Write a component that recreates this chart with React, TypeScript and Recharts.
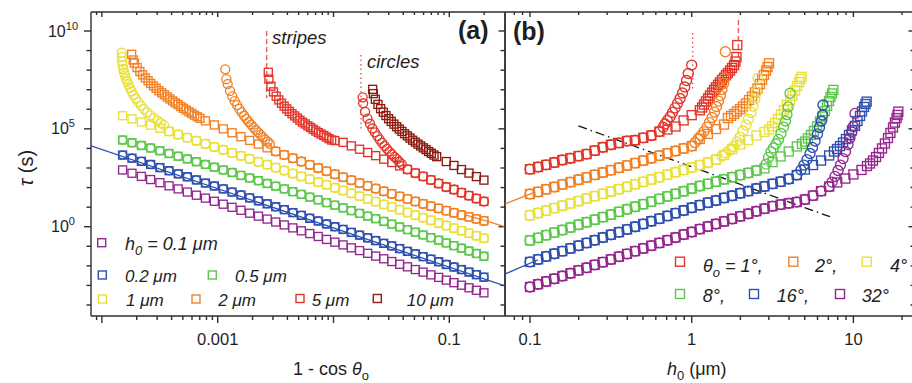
import React from 'react';
import { ScatterChart, Scatter, XAxis, YAxis, ReferenceLine } from 'recharts';

// ---------------- colours / fonts ----------------
const COL = {
  purple: '#93278F',
  blue: '#2E4FAE',
  green: '#5CC84B',
  yellow: '#E9E03A',
  orange: '#F28125',
  red: '#E2352A',
  darkred: '#8E1B12',
};
const AXIS = '#2e2e2e';
const TXT = '#1e1e1e';
const MARK = '#E65D52';
const FONT = '"Liberation Sans", Arial, Helvetica, sans-serif';

// ---------------- panel (a): log10(1 - cos θo) vs log10 τ ----------------
const aGridLog = [-3.821, -3.740, -3.659, -3.579, -3.499, -3.420, -3.341, -3.262, -3.184, -3.106, -3.029, -2.952, -2.876, -2.799, -2.724, -2.648, -2.573, -2.499, -2.425, -2.351, -2.278, -2.205, -2.132, -2.060, -1.988, -1.917, -1.846, -1.775, -1.705, -1.636, -1.566, -1.497, -1.429, -1.361, -1.293, -1.226, -1.159, -1.092, -1.026, -0.960, -0.895, -0.830, -0.766, -0.701];

const aRow01 = [2.90, 2.73, 2.57, 2.41, 2.25, 2.09, 1.93, 1.77, 1.61, 1.46, 1.30, 1.15, 0.99, 0.84, 0.69, 0.54, 0.39, 0.24, 0.09, -0.06, -0.21, -0.35, -0.50, -0.65, -0.79, -0.93, -1.08, -1.22, -1.36, -1.50, -1.64, -1.78, -1.92, -2.05, -2.19, -2.32, -2.46, -2.59, -2.73, -2.86, -2.99, -3.12, -3.25, -3.38];
const aRow02 = [3.66, 3.50, 3.34, 3.18, 3.02, 2.86, 2.70, 2.55, 2.39, 2.23, 2.08, 1.93, 1.77, 1.62, 1.47, 1.32, 1.17, 1.02, 0.87, 0.72, 0.58, 0.43, 0.29, 0.14, 0.00, -0.14, -0.29, -0.43, -0.57, -0.71, -0.85, -0.98, -1.12, -1.26, -1.39, -1.53, -1.66, -1.79, -1.93, -2.06, -2.19, -2.32, -2.45, -2.58];
const aRow05 = [4.43, 4.29, 4.15, 4.02, 3.88, 3.74, 3.60, 3.46, 3.32, 3.18, 3.04, 2.90, 2.77, 2.62, 2.49, 2.35, 2.21, 2.07, 1.93, 1.79, 1.65, 1.51, 1.37, 1.23, 1.10, 0.96, 0.82, 0.68, 0.54, 0.41, 0.27, 0.13, -0.01, -0.15, -0.28, -0.42, -0.56, -0.69, -0.83, -0.97, -1.10, -1.24, -1.37, -1.51];
const aRow1 = [5.67, 5.51, 5.35, 5.19, 5.03, 4.87, 4.71, 4.55, 4.39, 4.24, 4.08, 3.93, 3.77, 3.62, 3.47, 3.32, 3.17, 3.02, 2.87, 2.72, 2.57, 2.43, 2.28, 2.14, 1.99, 1.85, 1.71, 1.56, 1.42, 1.28, 1.14, 1.01, 0.87, 0.73, 0.60, 0.46, 0.33, 0.19, 0.06, -0.07, -0.20, -0.33, -0.46, -0.59];
// tails (aligned with the end of aGridLog)
const aTail2 = [5.41, 5.20, 5.00, 4.80, 4.60, 4.41, 4.22, 4.03, 3.85, 3.67, 3.50, 3.33, 3.16, 3.00, 2.84, 2.68, 2.53, 2.38, 2.23, 2.09, 1.95, 1.81, 1.68, 1.55, 1.42, 1.29, 1.17, 1.05, 0.94, 0.82, 0.71, 0.60, 0.50, 0.40, 0.30];
const aTail5 = [4.40, 4.31, 4.13, 3.96, 3.79, 3.63, 3.45, 3.28, 3.11, 2.93, 2.74, 2.57, 2.39, 2.21, 2.03, 1.90, 1.74, 1.59, 1.44, 1.29];
const aTail10 = [3.33, 3.13, 2.92, 2.74, 2.56, 2.38];
// grid index where circles rejoin the row
const A1_CIRC_FROM = 5;
const A2_CIRC_FROM = 17;
const A5_CIRC_FROM = 33;

// steep branches [log10(1-cos θo), log10 τ]
const a1Circ = [[-3.829, 8.89], [-3.828, 8.67], [-3.825, 8.44], [-3.821, 8.24], [-3.816, 8.06], [-3.809, 7.88], [-3.801, 7.73], [-3.792, 7.57], [-3.782, 7.42], [-3.771, 7.27], [-3.758, 7.09], [-3.743, 6.91], [-3.727, 6.73], [-3.708, 6.55], [-3.686, 6.37], [-3.663, 6.19], [-3.637, 6.01], [-3.609, 5.85], [-3.581, 5.69], [-3.550, 5.55], [-3.519, 5.42], [-3.490, 5.30], [-3.464, 5.20]];
const a2Sq = [[-3.743, 8.81], [-3.729, 8.52], [-3.719, 8.36], [-3.696, 8.13], [-3.672, 7.93], [-3.649, 7.76], [-3.625, 7.60], [-3.601, 7.46], [-3.578, 7.32], [-3.554, 7.19], [-3.531, 7.07], [-3.507, 6.95], [-3.483, 6.84], [-3.460, 6.74], [-3.436, 6.63], [-3.413, 6.53], [-3.389, 6.43], [-3.366, 6.33], [-3.342, 6.24], [-3.318, 6.14], [-3.295, 6.05], [-3.271, 5.96], [-3.248, 5.87], [-3.224, 5.79], [-3.200, 5.70], [-3.177, 5.62], [-3.153, 5.54]];
const a2Circ = [[-2.935, 8.04], [-2.925, 7.54], [-2.914, 7.29], [-2.894, 6.94], [-2.874, 6.66], [-2.853, 6.42], [-2.833, 6.21], [-2.813, 6.02], [-2.793, 5.84], [-2.772, 5.67], [-2.752, 5.51], [-2.732, 5.36], [-2.711, 5.22], [-2.691, 5.08], [-2.671, 4.94], [-2.650, 4.82], [-2.630, 4.69], [-2.610, 4.57], [-2.589, 4.45], [-2.569, 4.34], [-2.549, 4.23]];
const a5Sq = [[-2.563, 7.89], [-2.558, 7.54], [-2.540, 7.18], [-2.518, 6.89], [-2.495, 6.67], [-2.472, 6.48], [-2.449, 6.31], [-2.426, 6.16], [-2.404, 6.02], [-2.381, 5.89], [-2.358, 5.77], [-2.335, 5.66], [-2.312, 5.55], [-2.290, 5.44], [-2.267, 5.34], [-2.244, 5.25], [-2.221, 5.15], [-2.198, 5.07], [-2.176, 4.98], [-2.153, 4.89], [-2.130, 4.81], [-2.107, 4.73], [-2.084, 4.66], [-2.061, 4.58], [-2.039, 4.50], [-2.016, 4.43]];
const a5Circ = [[-1.748, 6.61], [-1.744, 6.31], [-1.727, 5.87], [-1.706, 5.52], [-1.685, 5.26], [-1.664, 5.02], [-1.643, 4.82], [-1.622, 4.63], [-1.601, 4.45], [-1.580, 4.28], [-1.559, 4.13], [-1.538, 3.98], [-1.517, 3.84], [-1.495, 3.70], [-1.474, 3.57], [-1.453, 3.45], [-1.432, 3.32], [-1.411, 3.20]];
const a10Sq = [[-1.662, 7.02], [-1.656, 6.80], [-1.639, 6.51], [-1.616, 6.25], [-1.593, 6.03], [-1.570, 5.85], [-1.547, 5.68], [-1.524, 5.52], [-1.501, 5.38], [-1.478, 5.24], [-1.455, 5.11], [-1.432, 4.99], [-1.409, 4.87], [-1.386, 4.75], [-1.362, 4.64], [-1.339, 4.53], [-1.316, 4.42], [-1.293, 4.32], [-1.270, 4.22], [-1.247, 4.13], [-1.224, 4.03], [-1.201, 3.94], [-1.178, 3.84], [-1.155, 3.75], [-1.132, 3.66], [-1.109, 3.58]];

// lines (a)
const aFitBlue = [[-4.094, 4.133], [-0.519, -3.03]];
const aFitOrange = [[-0.86, 0.61], [-0.519, 0.0]];
const aStripesMark = [[-2.577, 10.0], [-2.577, 6.56]];
const aCirclesMark = [[-1.763, 8.77], [-1.763, 4.94]];

// ---------------- panel (b): log10 h0 (µm) vs log10 τ ----------------
const bGridLog = [-1.00, -0.95, -0.90, -0.85, -0.80, -0.75, -0.70, -0.65, -0.60, -0.55, -0.50, -0.45, -0.40, -0.35, -0.30, -0.25, -0.20, -0.15, -0.10, -0.05, 0.00, 0.05, 0.10, 0.15, 0.20, 0.25, 0.30, 0.35, 0.40, 0.45, 0.50, 0.55, 0.60, 0.65, 0.70, 0.75, 0.80, 0.85, 0.90, 0.95, 1.00, 1.05];

const bRow1 = [2.94, 3.05, 3.16, 3.28, 3.41, 3.50, 3.61, 3.71, 3.89, 4.06, 4.19, 4.28, 4.38, 4.42, 4.54, 4.66, 4.86, 4.97, 5.12, 5.43, 5.70, 5.95];
const bRow2 = [1.67, 1.78, 1.91, 2.03, 2.16, 2.28, 2.40, 2.52, 2.65, 2.77, 2.89, 3.01, 3.13, 3.25, 3.38, 3.50, 3.63, 3.75, 3.87, 4.00, 4.12, 4.48, 4.74, 4.99, 5.22];
const bRow4 = [0.58, 0.70, 0.82, 0.95, 1.07, 1.19, 1.31, 1.44, 1.56, 1.68, 1.80, 1.92, 2.04, 2.17, 2.29, 2.41, 2.53, 2.66, 2.78, 2.90, 3.03, 3.15, 3.28, 3.43, 3.66, 3.97, 4.20, 4.43, 4.66, 4.84];
const bRow8 = [-0.70, -0.57, -0.43, -0.30, -0.17, -0.04, 0.10, 0.23, 0.36, 0.49, 0.62, 0.76, 0.89, 1.02, 1.15, 1.28, 1.42, 1.55, 1.68, 1.81, 1.95, 2.08, 2.19, 2.30, 2.42, 2.53, 2.64, 2.75, 2.87, 2.98, 3.30, 3.59, 3.84, 4.10];
const bRow16 = [-1.80, -1.67, -1.52, -1.38, -1.25, -1.11, -0.97, -0.83, -0.69, -0.55, -0.41, -0.28, -0.14, 0.00, 0.14, 0.28, 0.41, 0.55, 0.69, 0.83, 0.97, 1.10, 1.23, 1.34, 1.47, 1.58, 1.71, 1.82, 1.95, 2.06, 2.19, 2.30, 2.44, 2.64, 2.92, 3.15, 3.38, 3.64];
const bRow32 = [-3.08, -2.94, -2.80, -2.66, -2.52, -2.38, -2.23, -2.10, -1.95, -1.81, -1.67, -1.53, -1.39, -1.25, -1.11, -0.97, -0.83, -0.69, -0.55, -0.40, -0.27, -0.12, 0.01, 0.14, 0.27, 0.40, 0.53, 0.66, 0.79, 0.92, 1.05, 1.13, 1.20, 1.26, 1.39, 1.59, 1.82, 2.05, 2.26, 2.46, 2.67, 2.90];
// number of row points that also carry a circle
const bCircRowCount = [17, 21, 24, 29, 34, 38];

const bCirc1 = [[-0.176, 5.08], [-0.165, 5.25], [-0.151, 5.42], [-0.134, 5.62], [-0.119, 5.84], [-0.103, 6.07], [-0.088, 6.30], [-0.072, 6.55], [-0.057, 6.83], [-0.043, 7.14], [-0.032, 7.47], [-0.021, 7.83], [0.000, 8.26]];
const bSq1 = [[0.064, 6.09], [0.076, 6.24], [0.088, 6.40], [0.101, 6.55], [0.113, 6.70], [0.126, 6.85], [0.138, 6.99], [0.150, 7.12], [0.163, 7.25], [0.175, 7.37], [0.187, 7.50], [0.200, 7.61], [0.212, 7.74], [0.224, 7.85], [0.237, 7.98], [0.249, 8.11], [0.262, 8.26], [0.271, 8.44], [0.277, 8.67], [0.282, 9.28]];
const bCirc2 = [[0.020, 4.30], [0.039, 4.48], [0.058, 4.66], [0.076, 4.86], [0.095, 5.09], [0.110, 5.32], [0.126, 5.58], [0.141, 5.86], [0.153, 6.14], [0.166, 6.42], [0.177, 6.70], [0.187, 7.01], [0.197, 7.32], [0.203, 7.60], [0.208, 8.94]];
const bSq2 = [[0.224, 5.55], [0.243, 5.66], [0.262, 5.76], [0.280, 5.89], [0.299, 6.01], [0.317, 6.14], [0.336, 6.30], [0.354, 6.47], [0.373, 6.65], [0.391, 6.86], [0.407, 7.06], [0.422, 7.29], [0.435, 7.52], [0.447, 7.75], [0.460, 7.98], [0.469, 8.16], [0.478, 8.35]];
const bCirc4 = [[0.187, 3.61], [0.212, 3.77], [0.237, 3.92], [0.259, 4.10], [0.280, 4.33], [0.299, 4.58], [0.317, 4.89], [0.336, 5.20], [0.351, 5.50], [0.367, 5.84], [0.379, 6.17], [0.391, 6.53], [0.401, 6.88], [0.410, 7.58]];
const bSq4 = [[0.478, 4.97], [0.497, 5.12], [0.515, 5.30], [0.534, 5.50], [0.552, 5.73], [0.571, 5.96], [0.589, 6.22], [0.608, 6.47], [0.623, 6.70], [0.639, 6.96], [0.651, 7.19], [0.664, 7.39], [0.673, 7.55], [0.680, 7.66]];
const bCirc8 = [[0.460, 3.20], [0.475, 3.54], [0.490, 3.82], [0.506, 4.02], [0.521, 4.24], [0.537, 4.46], [0.552, 4.76], [0.568, 5.09], [0.580, 5.40], [0.589, 5.73], [0.597, 6.12], [0.608, 6.82]];
const bSq8 = [[0.682, 4.23], [0.701, 4.35], [0.719, 4.51], [0.738, 4.69], [0.756, 4.89], [0.775, 5.12], [0.793, 5.38], [0.809, 5.63], [0.824, 5.91], [0.837, 6.17], [0.849, 6.42], [0.858, 6.63], [0.868, 6.81], [0.876, 6.99]];
const bCirc16 = [[0.676, 2.90], [0.694, 3.15], [0.713, 3.43], [0.732, 3.74], [0.747, 4.05], [0.763, 4.38], [0.778, 4.74], [0.790, 5.07], [0.802, 5.40], [0.810, 5.71], [0.812, 6.22]];
const bSq16 = [[0.880, 3.84], [0.899, 3.97], [0.917, 4.12], [0.936, 4.30], [0.954, 4.48], [0.973, 4.69], [0.991, 4.92], [1.010, 5.15], [1.025, 5.40], [1.041, 5.66], [1.053, 5.89], [1.066, 6.12], [1.075, 6.27], [1.082, 6.39]];
const bCirc32 = [[0.868, 2.28], [0.886, 2.57], [0.905, 2.87], [0.920, 3.15], [0.936, 3.48], [0.951, 3.84], [0.967, 4.20], [0.979, 4.53], [0.990, 4.84], [0.999, 5.12], [1.010, 5.79]];
const bSq32 = [[1.084, 3.10], [1.103, 3.23], [1.121, 3.38], [1.140, 3.56], [1.158, 3.77], [1.177, 4.00], [1.195, 4.25], [1.214, 4.53], [1.229, 4.79], [1.245, 5.07], [1.257, 5.32], [1.267, 5.55], [1.273, 5.71], [1.278, 5.88]];

// lines (b)
const bFitOrange = [[-1.1546, 1.16], [-0.97, 1.77]];
const bFitBlue = [[-1.1546, -2.42], [-0.95, -1.69]];
const bCrossover = [[-0.701, 5.15], [0.855, 0.51]];
const bCirclesMark = [[0.006, 9.90], [0.006, 6.99]];
const bStripesMark = [[0.289, 10.56], [0.289, 8.16]];

// ---------------- ticks ----------------
const aXTicks = [9e-5, 1e-4, 2e-4, 3e-4, 4e-4, 5e-4, 6e-4, 7e-4, 8e-4, 9e-4, 1e-3, 2e-3, 3e-3, 4e-3, 5e-3, 6e-3, 7e-3, 8e-3, 9e-3, 1e-2, 2e-2, 3e-2, 4e-2, 5e-2, 6e-2, 7e-2, 8e-2, 9e-2, 1e-1, 2e-1];
const aXMajors = [1e-4, 1e-3, 1e-2, 1e-1];
const aXLabels: [number, string][] = [[1e-3, '0.001'], [1e-1, '0.1']];
const bXTicks = [0.08, 0.09, 0.1, 0.2, 0.3, 0.4, 0.5, 0.6, 0.7, 0.8, 0.9, 1, 2, 3, 4, 5, 6, 7, 8, 9, 10, 20];
const bXMajors = [0.1, 1, 10];
const bXLabels: [number, string][] = [[0.1, '0.1'], [1, '1'], [10, '10']];
const yTicks = [1e-4, 1e-3, 1e-2, 1e-1, 1e0, 1e1, 1e2, 1e3, 1e4, 1e5, 1e6, 1e7, 1e8, 1e9, 1e10];
const yMajors = [1e0, 1e5, 1e10];
const yLabels: [number, string][] = [[1e0, '0'], [1e5, '5'], [1e10, '10']];

// ---------------- domains ----------------
const Y_DOMAIN: [number, number] = [Math.pow(10, -4.563), Math.pow(10, 10.971)];
const AX_DOMAIN: [number, number] = [Math.pow(10, -4.094), Math.pow(10, -0.519)];
const BX_DOMAIN: [number, number] = [Math.pow(10, -1.1546), Math.pow(10, 1.381)];

// ---------------- helpers ----------------
type P = { x: number; y: number };
const pt = (lx: number, ly: number): P => ({ x: Math.pow(10, lx), y: Math.pow(10, ly) });
const fromGrid = (grid: number[], vals: number[], start = 0): P[] => vals.map((v, i) => pt(grid[start + i], v));
const fromPairs = (pairs: number[][]): P[] => pairs.map(([a, b]) => pt(a, b));
const seg = (pairs: number[][]) => pairs.map(([a, b]) => ({ x: Math.pow(10, a), y: Math.pow(10, b) }));
const same = (a: number, b: number) => Math.abs(Math.log10(a) - Math.log10(b)) < 1e-6;

type Ser = { key: string; color: string; shape: 'sq' | 'ci'; size: number; data: P[] };

const tailA = (tail: number[]) => aGridLog.length - tail.length;

const aSeries: Ser[] = [
  { key: 'a01s', color: COL.purple, shape: 'sq', size: 8, data: fromGrid(aGridLog, aRow01) },
  { key: 'a02s', color: COL.blue, shape: 'sq', size: 8, data: fromGrid(aGridLog, aRow02) },
  { key: 'a02c', color: COL.blue, shape: 'ci', size: 8, data: fromGrid(aGridLog, aRow02) },
  { key: 'a05s', color: COL.green, shape: 'sq', size: 8, data: fromGrid(aGridLog, aRow05) },
  { key: 'a05c', color: COL.green, shape: 'ci', size: 8, data: fromGrid(aGridLog, aRow05) },
  { key: 'a1s', color: COL.yellow, shape: 'sq', size: 8, data: fromGrid(aGridLog, aRow1) },
  {
    key: 'a1c', color: COL.yellow, shape: 'ci', size: 9,
    data: [...fromPairs(a1Circ), ...fromGrid(aGridLog, aRow1.slice(A1_CIRC_FROM), A1_CIRC_FROM)],
  },
  {
    key: 'a2s', color: COL.orange, shape: 'sq', size: 8,
    data: [...fromPairs(a2Sq), ...fromGrid(aGridLog, aTail2, tailA(aTail2))],
  },
  {
    key: 'a2c', color: COL.orange, shape: 'ci', size: 9,
    data: [...fromPairs(a2Circ), ...fromGrid(aGridLog, aTail2.slice(A2_CIRC_FROM - tailA(aTail2)), A2_CIRC_FROM)],
  },
  {
    key: 'a5s', color: COL.red, shape: 'sq', size: 8,
    data: [...fromPairs(a5Sq), ...fromGrid(aGridLog, aTail5, tailA(aTail5))],
  },
  {
    key: 'a5c', color: COL.red, shape: 'ci', size: 9,
    data: [...fromPairs(a5Circ), ...fromGrid(aGridLog, aTail5.slice(A5_CIRC_FROM - tailA(aTail5)), A5_CIRC_FROM)],
  },
  {
    key: 'a10s', color: COL.darkred, shape: 'sq', size: 8,
    data: [...fromPairs(a10Sq), ...fromGrid(aGridLog, aTail10, tailA(aTail10))],
  },
];

const bDefs = [
  { id: '1', color: COL.red, row: bRow1, circ: bCirc1, sq: bSq1 },
  { id: '2', color: COL.orange, row: bRow2, circ: bCirc2, sq: bSq2 },
  { id: '4', color: COL.yellow, row: bRow4, circ: bCirc4, sq: bSq4 },
  { id: '8', color: COL.green, row: bRow8, circ: bCirc8, sq: bSq8 },
  { id: '16', color: COL.blue, row: bRow16, circ: bCirc16, sq: bSq16 },
  { id: '32', color: COL.purple, row: bRow32, circ: bCirc32, sq: bSq32 },
];
const bSeries: Ser[] = bDefs.flatMap((d, i) => [
  { key: `b${d.id}s`, color: d.color, shape: 'sq' as const, size: 9, data: [...fromGrid(bGridLog, d.row), ...fromPairs(d.sq)] },
  {
    key: `b${d.id}c`, color: d.color, shape: 'ci' as const, size: 10,
    data: [...fromGrid(bGridLog, d.row.slice(0, bCircRowCount[i])), ...fromPairs(d.circ)],
  },
]);

// ---------------- marker shapes ----------------
const makeShape = (s: Ser) => (p: any) => {
  const { cx, cy } = p;
  if (cx == null || cy == null) return <g />;
  if (s.shape === 'sq') {
    return <rect x={cx - s.size / 2} y={cy - s.size / 2} width={s.size} height={s.size} fill="none" stroke={s.color} strokeWidth={1.35} />;
  }
  return <circle cx={cx} cy={cy} r={s.size / 2} fill="none" stroke={s.color} strokeWidth={1.35} />;
};

// ---------------- tick renderers (axis labels) ----------------
const xTick = (majors: number[], labels: [number, string][] | null, majorLen: number, minorLen: number) => (props: any) => {
  const { x, y, payload } = props;
  const v = payload.value as number;
  const major = majors.some((m) => same(m, v));
  const lab = labels ? labels.find(([m]) => same(m, v)) : undefined;
  return (
    <g>
      <line x1={x} x2={x} y1={y} y2={y + (major ? majorLen : minorLen)} stroke={AXIS} strokeWidth={1.4} />
      {lab && (
        <text x={x} y={y + 29} textAnchor="middle" fontSize={16.5} fill={TXT} fontFamily={FONT}>
          {lab[1]}
        </text>
      )}
    </g>
  );
};

const yTickLabel = (props: any) => {
  const { x, y, payload } = props;
  const v = payload.value as number;
  const lab = yLabels.find(([m]) => same(m, v));
  if (!lab) return <g />;
  return (
    <text x={x - 28} y={y + 5.5} textAnchor="middle" fontSize={16} fill={TXT} fontFamily={FONT}>
      10<tspan dy={-7} fontSize={11}>{lab[1]}</tspan>
    </text>
  );
};

// tick marks on the frame, placed through the scales by ReferenceLine
const yTickMarks = (left: [number, number] | null, right: [number, number] | null) =>
  yTicks.map((v) => {
    const major = yMajors.some((m) => same(m, v));
    return (
      <ReferenceLine
        key={`ym${v}`}
        xAxisId="x"
        yAxisId="y"
        y={v}
        ifOverflow="visible"
        shape={(p: any) => {
          const xl = Math.min(p.x1, p.x2);
          const xr = Math.max(p.x1, p.x2);
          const yy = p.y1;
          return (
            <g>
              {left && <line x1={xl} x2={xl - (major ? left[0] : left[1])} y1={yy} y2={yy} stroke={AXIS} strokeWidth={1.4} />}
              {right && <line x1={xr} x2={xr - (major ? right[0] : right[1])} y1={yy} y2={yy} stroke={AXIS} strokeWidth={1.4} />}
            </g>
          );
        }}
      />
    );
  });

const xTopMarks = (ticks: number[], majors: number[]) =>
  ticks.map((v) => {
    const major = majors.some((m) => same(m, v));
    return (
      <ReferenceLine
        key={`xm${v}`}
        xAxisId="x"
        yAxisId="y"
        x={v}
        ifOverflow="visible"
        shape={(p: any) => {
          const yt = Math.min(p.y1, p.y2);
          return <line x1={p.x1} x2={p.x1} y1={yt} y2={yt + (major ? 5 : 3)} stroke={AXIS} strokeWidth={1.4} />;
        }}
      />
    );
  });

const renderSeries = (list: Ser[]) =>
  list.map((s) => (
    <Scatter
      key={s.key}
      xAxisId="x"
      yAxisId="y"
      data={s.data}
      isAnimationActive={false}
      shape={makeShape(s)}
    />
  ));

const refSeg = (pairs: number[][], color: string, dash: string | undefined, width: number, key: string) => (
  <ReferenceLine
    key={key}
    xAxisId="x"
    yAxisId="y"
    segment={seg(pairs)}
    stroke={color}
    strokeWidth={width}
    strokeDasharray={dash}
    ifOverflow="hidden"
  />
);

// frame lines drawn through the axes' own scales at the domain edges
const frame = (xDom: [number, number], withRight: boolean) => [
  <ReferenceLine key="fb" xAxisId="x" yAxisId="y" y={Y_DOMAIN[0]} stroke={AXIS} strokeWidth={1.4} ifOverflow="visible" />,
  <ReferenceLine key="ft" xAxisId="x" yAxisId="y" y={Y_DOMAIN[1]} stroke={AXIS} strokeWidth={1.4} ifOverflow="visible" />,
  <ReferenceLine key="fl" xAxisId="x" yAxisId="y" x={xDom[0]} stroke={AXIS} strokeWidth={1.4} ifOverflow="visible" />,
  withRight ? <ReferenceLine key="fr" xAxisId="x" yAxisId="y" x={xDom[1]} stroke={AXIS} strokeWidth={1.4} ifOverflow="visible" /> : null,
];

// ---------------- legend overlay ----------------
const Sq = ({ x, y, c, s = 8 }: { x: number; y: number; c: string; s?: number }) => (
  <rect x={x - s / 2} y={y - s / 2} width={s} height={s} fill="none" stroke={c} strokeWidth={1.4} />
);

const Overlay = () => (
  <svg width={912} height={383} style={{ position: 'absolute', left: 0, top: 0, pointerEvents: 'none' }} fontFamily={FONT}>
    {/* y label */}
    <text x={33} y={168} transform="rotate(-90 33 168)" textAnchor="middle" fontSize={20} fill={TXT}>
      <tspan fontStyle="italic">τ</tspan> (s)
    </text>
    {/* x labels */}
    <text x={293} y={375} fontSize={18} fill={TXT}>
      1 - cos <tspan fontStyle="italic">θ</tspan>
      <tspan dy={5} fontSize={13}>o</tspan>
    </text>
    <text x={667} y={375} fontSize={18} fill={TXT}>
      <tspan fontStyle="italic">h</tspan>
      <tspan dy={5} fontSize={13}>0</tspan>
      <tspan dy={-5}> (μm)</tspan>
    </text>
    {/* panel titles */}
    <text x={458} y={39} fontSize={25} fontWeight="bold" fill={TXT}>(a)</text>
    <text x={513} y={40} fontSize={25} fontWeight="bold" fill={TXT}>(b)</text>
    {/* annotations */}
    <text x={272} y={43.5} fontSize={18.5} fontStyle="italic" fill={TXT}>stripes</text>
    <text x={367} y={68} fontSize={18.5} fontStyle="italic" fill={TXT}>circles</text>

    {/* legend (a) */}
    <g fontStyle="italic" fontSize={17} fill={TXT}>
      <Sq x={101.7} y={242.7} c={COL.purple} />
      <text x={125} y={250} fontSize={18}>
        h<tspan dy={5} fontSize={13}>0</tspan>
        <tspan dy={-5}> = 0.1 μm</tspan>
      </text>
      <Sq x={102.3} y={275} c={COL.blue} />
      <text x={125} y={281.5}>0.2 μm</text>
      <Sq x={212.3} y={275} c={COL.green} />
      <text x={235} y={281.5}>0.5 μm</text>
      <Sq x={102.3} y={299} c={COL.yellow} />
      <text x={126} y={305.5}>1 μm</text>
      <Sq x={196} y={299} c={COL.orange} />
      <text x={218.3} y={305.5}>2 μm</text>
      <Sq x={300} y={298.5} c={COL.red} />
      <text x={311.7} y={305.5}>5 μm</text>
      <Sq x={377.3} y={298.5} c={COL.darkred} />
      <text x={406.7} y={305.5}>10 μm</text>
    </g>

    {/* legend (b) */}
    <g fontStyle="italic" fontSize={18} fill={TXT}>
      <Sq x={680} y={261.7} c={COL.red} s={9} />
      <text x={703} y={271.5}>
        θ<tspan dy={5} fontSize={13}>o</tspan>
        <tspan dy={-5}> = 1°,</tspan>
      </text>
      <Sq x={793.3} y={261.7} c={COL.orange} s={9} />
      <text x={815} y={271.5}>2°,</text>
      <Sq x={866.7} y={261.7} c={COL.yellow} s={9} />
      <text x={890} y={271.5}>4°</text>
      <Sq x={680} y={294} c={COL.green} s={9} />
      <text x={702.7} y={301.7}>8°,</text>
      <Sq x={754} y={294} c={COL.blue} s={9} />
      <text x={776.7} y={301.7}>16°,</text>
      <Sq x={840} y={294} c={COL.purple} s={9} />
      <text x={861.7} y={301.7}>32°</text>
    </g>
  </svg>
);

const axisCommon = {
  type: 'number' as const,
  scale: 'log' as const,
  allowDataOverflow: true,
  interval: 0 as const,
  tickSize: 0,
  tickMargin: 0,
  tickLine: false,
  axisLine: false,
};

export default function App() {
  return (
    <div style={{ position: 'absolute', left: 0, top: 0, width: 912, height: 383, overflow: 'hidden', background: '#fff' }}>
      {/* panel (a) */}
      <div style={{ position: 'absolute', left: 0, top: 0 }}>
        <ScatterChart width={507} height={383} margin={{ top: 12, right: 2, bottom: 0, left: 0 }}>
          <XAxis {...axisCommon} xAxisId="x" dataKey="x" domain={AX_DOMAIN} orientation="bottom" height={67}
            ticks={aXTicks} tick={xTick(aXMajors, aXLabels, 7, 4)} />
          <YAxis {...axisCommon} yAxisId="y" dataKey="y" domain={Y_DOMAIN} orientation="left" width={91}
            ticks={yTicks} tick={yTickLabel} />
          {frame(AX_DOMAIN, true)}
          {yTickMarks([7, 4.5], [6.5, 4.5])}
          {xTopMarks(aXTicks, aXMajors)}
          {refSeg(aFitBlue, COL.blue, undefined, 1.3, 'afb')}
          {refSeg(aFitOrange, COL.orange, undefined, 1.3, 'afo')}
          {renderSeries(aSeries)}
          {refSeg(aStripesMark, MARK, '5 3', 1.4, 'asm')}
          {refSeg(aCirclesMark, MARK, '1.5 3', 1.4, 'acm')}
        </ScatterChart>
      </div>
      {/* panel (b) */}
      <div style={{ position: 'absolute', left: 0, top: 0 }}>
        <ScatterChart width={920} height={383} margin={{ top: 12, right: 5, bottom: 0, left: 505 }}>
          <XAxis {...axisCommon} xAxisId="x" dataKey="x" domain={BX_DOMAIN} orientation="bottom" height={67}
            ticks={bXTicks} tick={xTick(bXMajors, bXLabels, 7, 4)} />
          <YAxis {...axisCommon} yAxisId="y" dataKey="y" domain={Y_DOMAIN} orientation="left" width={0}
            ticks={yTicks} tick={false} />
          {frame(BX_DOMAIN, false)}
          {yTickMarks(null, [6.5, 4.5])}
          {xTopMarks(bXTicks, bXMajors)}
          {refSeg(bFitOrange, COL.orange, undefined, 1.3, 'bfo')}
          {refSeg(bFitBlue, COL.blue, undefined, 1.3, 'bfb')}
          {renderSeries(bSeries)}
          {refSeg(bCrossover, '#111', '9 4 1.5 4', 1.3, 'bco')}
          {refSeg(bCirclesMark, MARK, '1.5 3', 1.4, 'bcm')}
          {refSeg(bStripesMark, MARK, '5 3', 1.4, 'bsm')}
        </ScatterChart>
      </div>
      <Overlay />
    </div>
  );
}
